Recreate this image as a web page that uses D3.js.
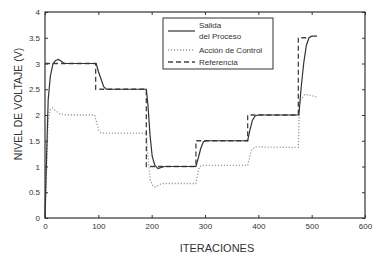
<!DOCTYPE html>
<html>
<head>
<meta charset="utf-8">
<script src="https://cdn.jsdelivr.net/npm/d3@7"></script>
<style>
  body { margin: 0; background: #fff; }
  text { font-family: "Liberation Sans", Arial, sans-serif; fill: #333; }
</style>
</head>
<body>
<div id="wrapper"></div>
<script>
// 1. Data
const salida = [[0,0],[3,1.2],[6,2.3],[10,2.75],[15,3.0],[20,3.06],[25,3.08],[30,3.05],[36,3.0],[96,3.0],[100,2.85],[105,2.7],[110,2.55],[115,2.5],[190,2.5],[193,2.2],[197,1.6],[201,1.2],[206,1.02],[212,0.96],[218,0.98],[224,1.0],[283,1.0],[287,1.15],[292,1.35],[297,1.48],[302,1.5],[380,1.5],[384,1.7],[389,1.9],[394,1.98],[399,2.0],[476,2.0],[480,2.5],[485,3.0],[490,3.35],[495,3.5],[500,3.53],[510,3.53]]
const accion = [[0,0],[3,1.0],[6,1.9],[10,2.1],[14,2.14],[20,2.08],[28,2.02],[40,2.0],[93,2.0],[97,1.85],[101,1.7],[105,1.65],[190,1.65],[193,1.2],[197,0.75],[202,0.63],[207,0.6],[215,0.65],[222,0.67],[283,0.67],[286,0.85],[290,1.0],[296,1.02],[380,1.02],[384,1.2],[388,1.34],[396,1.38],[475,1.37],[477,2.2],[480,2.3],[487,2.4],[497,2.38],[510,2.35]]
const referencia = [[0,3],[95,3],[95,2.5],[190,2.5],[190,1],[283,1],[283,1.5],[380,1.5],[380,2],[475,2],[475,3.5],[490,3.5]]
const xTicks = [0, 100, 200, 300, 400, 500, 600]
const yTicks = [0, 0.5, 1, 1.5, 2, 2.5, 3, 3.5, 4]
const legendLabels = [["Salida", "del Proceso"], ["Acción de Control"], ["Referencia"]]

// 2. Dimensions
const dimensions = {
  width: 378,
  height: 258,
  margins: { top: 12, right: 13, bottom: 40, left: 45 },
}
dimensions.boundedWidth = dimensions.width - dimensions.margins.left - dimensions.margins.right
dimensions.boundedHeight = dimensions.height - dimensions.margins.top - dimensions.margins.bottom

// 3. Canvas
const wrapper = d3.select("#wrapper").append("svg")
  .attr("width", dimensions.width)
  .attr("height", dimensions.height)

const bounds = wrapper.append("g")
  .attr("transform", `translate(${dimensions.margins.left},${dimensions.margins.top})`)

// scales
const xScale = d3.scaleLinear().domain([0, 600]).range([0, dimensions.boundedWidth])
const yScale = d3.scaleLinear().domain([0, 4]).range([dimensions.boundedHeight, 0])

// lines
const lineGenerator = d3.line()
  .x(d => xScale(d[0]))
  .y(d => yScale(d[1]))

const styles = [
  { data: accion, stroke: "#9a9a9a", width: 1.3, dash: "1.2,1.8" },
  { data: referencia, stroke: "#444", width: 1.3, dash: "5,3" },
  { data: salida, stroke: "#333", width: 1.2, dash: null },
]
styles.forEach(s => {
  bounds.append("path")
    .attr("d", lineGenerator(s.data))
    .attr("fill", "none")
    .attr("stroke", s.stroke)
    .attr("stroke-width", s.width)
    .attr("stroke-dasharray", s.dash)
})

// axes (MATLAB style box, ticks inside)
const axisStyle = g => {
  g.select(".domain").remove()
  g.selectAll("line").attr("stroke", "#333")
  g.selectAll("text").attr("font-size", 8).attr("fill", "#333")
}
bounds.append("g")
  .attr("transform", `translate(0,${dimensions.boundedHeight})`)
  .call(d3.axisBottom(xScale).tickValues(xTicks).tickSize(-3).tickPadding(5))
  .call(axisStyle)
bounds.append("g")
  .call(d3.axisLeft(yScale).tickValues(yTicks).tickSize(-3).tickPadding(5).tickFormat(d3.format("~g")))
  .call(axisStyle)
bounds.append("g")
  .call(d3.axisTop(xScale).tickValues(xTicks).tickSize(-3).tickFormat(""))
  .call(axisStyle)
bounds.append("g")
  .attr("transform", `translate(${dimensions.boundedWidth},0)`)
  .call(d3.axisRight(yScale).tickValues(yTicks).tickSize(-3).tickFormat(""))
  .call(axisStyle)

bounds.append("rect")
  .attr("width", dimensions.boundedWidth)
  .attr("height", dimensions.boundedHeight)
  .attr("fill", "none")
  .attr("stroke", "#333")
  .attr("stroke-width", 1.2)

// axis labels
wrapper.append("text")
  .attr("x", 217)
  .attr("y", 252)
  .attr("text-anchor", "middle")
  .attr("font-size", 11)
  .text("ITERACIONES")

wrapper.append("text")
  .attr("transform", "translate(22,104) rotate(-90)")
  .attr("text-anchor", "middle")
  .attr("font-size", 10.5)
  .text("NIVEL DE VOLTAJE (V)")

// legend
const legend = wrapper.append("g")
legend.append("rect")
  .attr("x", 163).attr("y", 18)
  .attr("width", 110).attr("height", 51)
  .attr("fill", "#fff")
  .attr("stroke", "#333")
  .attr("stroke-width", 1)

const legendRows = [
  { y: 31, lines: legendLabels[0], style: styles[2] },
  { y: 50, lines: legendLabels[1], style: styles[0] },
  { y: 62, lines: legendLabels[2], style: styles[1] },
]
legendRows.forEach(r => {
  legend.append("line")
    .attr("x1", 168).attr("x2", 195)
    .attr("y1", r.y).attr("y2", r.y)
    .attr("stroke", r.style.stroke)
    .attr("stroke-width", r.style.width)
    .attr("stroke-dasharray", r.style.dash)
  const t = legend.append("text")
    .attr("x", 199)
    .attr("font-size", 8)
  if (r.lines.length === 2) {
    t.append("tspan").attr("x", 199).attr("y", r.y - 3).text(r.lines[0])
    t.append("tspan").attr("x", 199).attr("y", r.y + 8).text(r.lines[1])
  } else {
    t.attr("y", r.y + 3).text(r.lines[0])
  }
})
</script>
</body>
</html>
